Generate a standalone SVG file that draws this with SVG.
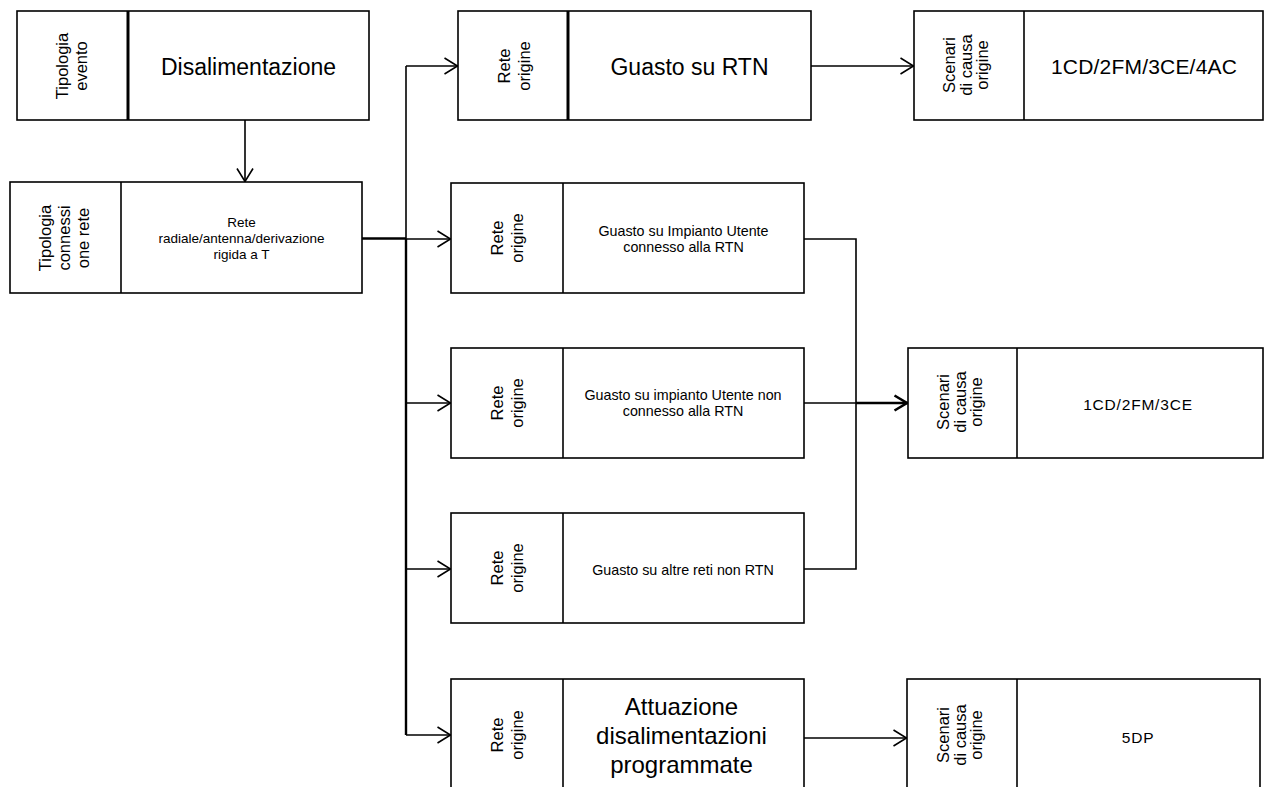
<svg xmlns="http://www.w3.org/2000/svg" width="1264" height="787" viewBox="0 0 1264 787">
  <style>
    .box { fill: #fff; stroke: #000; stroke-width: 1.6; }
    .div { stroke: #000; stroke-width: 1.6; }
    .div2 { stroke: #000; stroke-width: 3; }
    .wire { fill: none; stroke: #000; stroke-width: 1.6; }
    .wire-b { fill: none; stroke: #000; stroke-width: 2.4; }
    text { font-family: "Liberation Sans", Arial, sans-serif; fill: #000; }
    .big { font-size: 23px; text-anchor: middle; }
    .med { font-size: 21px; text-anchor: middle; letter-spacing: 0.2px; }
    .sm { font-size: 13.5px; text-anchor: middle; }
    .sm2 { font-size: 14.3px; text-anchor: middle; }
    .code { font-size: 15.5px; text-anchor: middle; letter-spacing: 0.8px; }
    .rot { font-size: 16.5px; text-anchor: middle; }
  </style>
  <defs>
    <marker id="arr" markerUnits="userSpaceOnUse" markerWidth="18" markerHeight="20" refX="15" refY="9" orient="auto">
      <path d="M1.5,1 L14.5,9 L1.5,17" fill="none" stroke="#000" stroke-width="1.6"/>
    </marker>
    <marker id="arrBold" markerUnits="userSpaceOnUse" markerWidth="18" markerHeight="20" refX="15" refY="9" orient="auto">
      <path d="M1.5,1.5 L14,9 L1.5,16.5" fill="none" stroke="#000" stroke-width="2.6"/>
    </marker>
  </defs>
  <rect width="1264" height="787" fill="#fff"/>

  <!-- connectors -->
  <g id="connectors">
    <path class="wire" d="M245,120 V182" marker-end="url(#arr)"/>
    <path class="wire-b" d="M362,238.5 H406"/>
    <path class="wire" d="M406,66 V238.5"/>
    <path class="wire-b" d="M406,238.5 V735"/>
    <path class="wire" d="M406,66 H458" marker-end="url(#arr)"/>
    <path class="wire" d="M406,239 H451" marker-end="url(#arr)"/>
    <path class="wire" d="M406,403 H451" marker-end="url(#arr)"/>
    <path class="wire" d="M406,569 H451" marker-end="url(#arr)"/>
    <path class="wire" d="M406,735 H451" marker-end="url(#arr)"/>
    <path class="wire" d="M811,66 H914" marker-end="url(#arr)"/>
    <path class="wire" d="M804,239 H856 V569 H804"/>
    <path class="wire" d="M804,403 H856"/>
    <path class="wire-b" d="M856,403 H908" marker-end="url(#arrBold)"/>
    <path class="wire" d="M804,738 H907" marker-end="url(#arr)"/>
  </g>

  <!-- event type -->
  <g id="node-evento">
    <rect class="box" x="17" y="11" width="352" height="109"/>
    <line class="div2" x1="128" y1="11" x2="128" y2="120"/>
    <text class="rot" transform="translate(0,66) rotate(-90)"><tspan x="0" y="68">Tipologia</tspan><tspan x="0" y="87">evento</tspan></text>
    <text class="big" x="248.5" y="75">Disalimentazione</text>
  </g>

  <!-- connection type -->
  <g id="node-connessione">
    <rect class="box" x="10" y="182" width="352" height="111"/>
    <line class="div" x1="121" y1="182" x2="121" y2="293"/>
    <text class="rot" transform="translate(0,238) rotate(-90)"><tspan x="0" y="51">Tipologia</tspan><tspan x="0" y="70">connessi</tspan><tspan x="0" y="89">one rete</tspan></text>
    <text class="sm"><tspan x="241.5" y="227">Rete</tspan><tspan x="241.5" y="243">radiale/antenna/derivazione</tspan><tspan x="241.5" y="259">rigida a T</tspan></text>
  </g>

  <!-- fault on RTN -->
  <g id="node-rtn">
    <rect class="box" x="458" y="11" width="353" height="109"/>
    <line class="div2" x1="568" y1="11" x2="568" y2="120"/>
    <text class="rot" transform="translate(0,66) rotate(-90)"><tspan x="0" y="510">Rete</tspan><tspan x="0" y="530">origine</tspan></text>
    <text class="big" x="689.5" y="75">Guasto su RTN</text>
  </g>

  <g id="node-scenari-rtn">
    <rect class="box" x="914" y="11" width="349" height="109"/>
    <line class="div" x1="1024" y1="11" x2="1024" y2="120"/>
    <text class="rot" transform="translate(0,65) rotate(-90)"><tspan x="0" y="955">Scenari</tspan><tspan x="0" y="971.5">di causa</tspan><tspan x="0" y="988">origine</tspan></text>
    <text class="med" x="1144" y="74">1CD/2FM/3CE/4AC</text>
  </g>

  <!-- user plant connected to RTN -->
  <g id="node-utente-rtn">
    <rect class="box" x="451" y="183" width="353" height="110"/>
    <line class="div" x1="563" y1="183" x2="563" y2="293"/>
    <text class="rot" transform="translate(0,238) rotate(-90)"><tspan x="0" y="503">Rete</tspan><tspan x="0" y="523">origine</tspan></text>
    <text class="sm2"><tspan x="683.5" y="236">Guasto su Impianto Utente</tspan><tspan x="683.5" y="251.5">connesso alla RTN</tspan></text>
  </g>

  <!-- user plant not connected to RTN -->
  <g id="node-utente-non-rtn">
    <rect class="box" x="451" y="348" width="353" height="110"/>
    <line class="div" x1="563" y1="348" x2="563" y2="458"/>
    <text class="rot" transform="translate(0,403) rotate(-90)"><tspan x="0" y="503">Rete</tspan><tspan x="0" y="523">origine</tspan></text>
    <text class="sm2"><tspan x="683" y="400">Guasto su impianto Utente non</tspan><tspan x="683" y="415.5">connesso alla RTN</tspan></text>
  </g>

  <!-- other networks -->
  <g id="node-altre-reti">
    <rect class="box" x="451" y="513" width="353" height="110"/>
    <line class="div" x1="563" y1="513" x2="563" y2="623"/>
    <text class="rot" transform="translate(0,568) rotate(-90)"><tspan x="0" y="503">Rete</tspan><tspan x="0" y="523">origine</tspan></text>
    <text class="sm2" x="683" y="575">Guasto su altre reti non RTN</text>
  </g>

  <g id="node-scenari-comuni">
    <rect class="box" x="908" y="348" width="355" height="110"/>
    <line class="div" x1="1017" y1="348" x2="1017" y2="458"/>
    <text class="rot" transform="translate(0,402) rotate(-90)"><tspan x="0" y="949">Scenari</tspan><tspan x="0" y="965.5">di causa</tspan><tspan x="0" y="982">origine</tspan></text>
    <text class="code" x="1138" y="410">1CD/2FM/3CE</text>
  </g>

  <!-- planned outages -->
  <g id="node-programmate">
    <rect class="box" x="451" y="679" width="353" height="120"/>
    <line class="div" x1="563" y1="679" x2="563" y2="799"/>
    <text class="rot" transform="translate(0,735) rotate(-90)"><tspan x="0" y="503">Rete</tspan><tspan x="0" y="523">origine</tspan></text>
    <text class="big" style="font-size:24px"><tspan x="681.5" y="715">Attuazione</tspan><tspan x="681.5" y="744">disalimentazioni</tspan><tspan x="681.5" y="773">programmate</tspan></text>
  </g>

  <g id="node-scenari-dp">
    <rect class="box" x="907" y="679" width="353" height="120"/>
    <line class="div" x1="1017" y1="679" x2="1017" y2="799"/>
    <text class="rot" transform="translate(0,735) rotate(-90)"><tspan x="0" y="949">Scenari</tspan><tspan x="0" y="965.5">di causa</tspan><tspan x="0" y="982">origine</tspan></text>
    <text class="code" x="1138" y="743">5DP</text>
  </g>
</svg>
